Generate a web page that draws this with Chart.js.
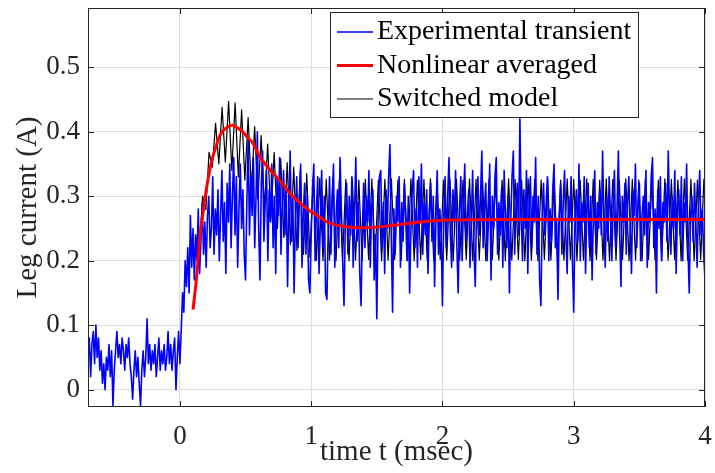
<!DOCTYPE html>
<html>
<head>
<meta charset="utf-8">
<script src="https://cdn.jsdelivr.net/npm/chart.js"></script>
<style>
  html, body { margin: 0; padding: 0; background: #fff; }
  #legCurrentChart { display: block; }
</style>
</head>
<body>
<canvas id="legCurrentChart" width="715" height="473"></canvas>
<script>
// axis ranges and tick marks (msec / A)
const xRange = [-0.7, 4];
const yRange = [-0.027, 0.592];
const xTicks = [0, 1, 2, 3, 4];
const yTicks = [0, 0.1, 0.2, 0.3, 0.4, 0.5];

// measured leg current, sampled every 10 usec from -0.7 msec
const expStart = -0.7;
const expStep = 0.01;
const expCurrent = [
  0.05, 0.08, 0.02, 0.07, 0.09, 0.04, 0.10, 0.05, 0.08, 0.03,
  0.06, 0.01, 0.04, 0.00, 0.05, 0.03, 0.07, 0.02, 0.06, -0.025,
  0.03, 0.06, 0.09, 0.05, 0.07, 0.04, 0.08, 0.06, 0.03, 0.07,
  0.05, 0.08, 0.04, 0.02, -0.015, 0.03, 0.06, 0.02, 0.05, 0.01,
  -0.025, 0.03, 0.06, 0.02, 0.05, 0.11, 0.04, 0.07, 0.03, 0.06,
  0.04, 0.07, 0.02, 0.05, 0.08, 0.03, 0.06, 0.04, 0.07, 0.03,
  0.05, 0.09, 0.04, 0.07, 0.03, 0.06, 0.08, 0.00, 0.05, 0.09,
  // t = 0
  0.04, 0.09, 0.15, 0.12, 0.20, 0.16, 0.22, 0.15, 0.27, 0.19,
  0.25, 0.17, 0.24, 0.20, 0.28, 0.18, 0.23, 0.29, 0.21, 0.26,
  0.19, 0.27, 0.30, 0.22, 0.25, 0.33, 0.21, 0.28, 0.24, 0.31,
  0.20, 0.27, 0.34, 0.23, 0.29, 0.18, 0.32, 0.26, 0.35, 0.22,
  0.30, 0.36, 0.24, 0.33, 0.19, 0.28, 0.35, 0.25, 0.31, 0.21,
  0.17, 0.29, 0.39, 0.24, 0.33, 0.27, 0.36, 0.22, 0.30, 0.40,
  0.25, 0.17, 0.32, 0.37, 0.23, 0.29, 0.34, 0.20, 0.31, 0.26,
  0.35, 0.22, 0.30, 0.18, 0.33, 0.27, 0.36, 0.21, 0.29, 0.34,
  0.24, 0.31, 0.16, 0.28, 0.37, 0.23, 0.30, 0.15, 0.27, 0.33,
  0.22, 0.29, 0.35, 0.19, 0.27, 0.32, 0.21, 0.30, 0.17, 0.15,
  // t = 1
  0.24, 0.31, 0.35, 0.20, 0.28, 0.33, 0.18, 0.26, 0.34, 0.22,
  0.30, 0.15, 0.14, 0.25, 0.33, 0.21, 0.29, 0.35, 0.19, 0.27,
  0.31, 0.22, 0.36, 0.28, 0.20, 0.13, 0.26, 0.32, 0.21, 0.30,
  0.24, 0.33, 0.19, 0.27, 0.36, 0.23, 0.29, 0.18, 0.13, 0.25,
  0.32, 0.22, 0.30, 0.26, 0.34, 0.19, 0.28, 0.31, 0.17, 0.24,
  0.11, 0.27, 0.33, 0.34, 0.22, 0.29, 0.18, 0.31, 0.25, 0.33,
  0.38, 0.24, 0.12, 0.28, 0.21, 0.30, 0.26, 0.33, 0.19, 0.29,
  0.23, 0.32, 0.27, 0.20, 0.30, 0.15, 0.25, 0.31, 0.34, 0.22,
  0.28, 0.19, 0.33, 0.26, 0.35, 0.21, 0.29, 0.24, 0.31, 0.18,
  0.27, 0.32, 0.23, 0.30, 0.16, 0.26, 0.34, 0.21, 0.28, 0.24,
  // t = 2
  0.13, 0.27, 0.33, 0.22, 0.30, 0.36, 0.24, 0.19, 0.31, 0.26,
  0.34, 0.22, 0.15, 0.28, 0.33, 0.20, 0.29, 0.35, 0.23, 0.27,
  0.31, 0.19, 0.26, 0.34, 0.22, 0.16, 0.29, 0.33, 0.24, 0.30,
  0.37, 0.22, 0.28, 0.32, 0.20, 0.26, 0.35, 0.17, 0.30, 0.25,
  0.33, 0.36, 0.21, 0.29, 0.24, 0.31, 0.19, 0.34, 0.27, 0.22,
  0.30, 0.15, 0.26, 0.33, 0.37, 0.21, 0.28, 0.32, 0.24, 0.42,
  0.27, 0.20, 0.31, 0.25, 0.34, 0.18, 0.29, 0.33, 0.22, 0.30,
  0.26, 0.36, 0.21, 0.30, 0.17, 0.13, 0.27, 0.32, 0.24, 0.29,
  0.33, 0.20, 0.28, 0.23, 0.31, 0.35, 0.22, 0.26, 0.14, 0.27,
  0.32, 0.21, 0.29, 0.34, 0.24, 0.18, 0.30, 0.26, 0.33, 0.20,
  // t = 3
  0.12, 0.27, 0.31, 0.23, 0.35, 0.20, 0.29, 0.26, 0.33, 0.18,
  0.28, 0.32, 0.22, 0.30, 0.17, 0.27, 0.34, 0.21, 0.29, 0.25,
  0.31, 0.24, 0.37, 0.26, 0.19, 0.30, 0.23, 0.33, 0.27, 0.20,
  0.29, 0.34, 0.22, 0.28, 0.37, 0.24, 0.16, 0.30, 0.26, 0.32,
  0.21, 0.29, 0.33, 0.25, 0.18, 0.31, 0.27, 0.35, 0.22, 0.28,
  0.32, 0.20, 0.27, 0.30, 0.24, 0.34, 0.19, 0.29, 0.26, 0.33,
  0.36, 0.22, 0.28, 0.15, 0.31, 0.25, 0.33, 0.20, 0.29, 0.26,
  0.32, 0.23, 0.37, 0.27, 0.21, 0.30, 0.25, 0.34, 0.18, 0.28,
  0.31, 0.24, 0.33, 0.20, 0.29, 0.26, 0.35, 0.22, 0.15, 0.27,
  0.30, 0.23, 0.32, 0.26, 0.19, 0.29, 0.34, 0.24, 0.28, 0.21,
  0.17
];

// switched model: ripple corners every half switching period
const switchedStart = 0.123;
const switchedStep = 0.0248;
const switchedCurrent = [
  0.215, 0.215, 0.300, 0.279, 0.368, 0.345, 0.413, 0.350, 0.438, 0.353,
  0.447, 0.340, 0.445, 0.330, 0.434, 0.325, 0.422, 0.310, 0.408, 0.295,
  0.394, 0.280, 0.381, 0.265, 0.368, 0.250, 0.358, 0.236, 0.352, 0.225,
  0.345, 0.216, 0.340, 0.210, 0.335, 0.205, 0.330, 0.201, 0.328, 0.200,
  0.326, 0.201, 0.327, 0.200, 0.325, 0.202, 0.326, 0.200, 0.327, 0.201,
  0.325, 0.200, 0.326, 0.202, 0.327, 0.201, 0.325, 0.200, 0.326, 0.201,
  0.327, 0.202, 0.325, 0.200, 0.326, 0.201, 0.327, 0.200, 0.325, 0.202,
  0.326, 0.201, 0.327, 0.200, 0.326, 0.202, 0.325, 0.201, 0.327, 0.200,
  0.326, 0.201, 0.325, 0.202, 0.327, 0.200, 0.326, 0.201, 0.325, 0.200,
  0.327, 0.202, 0.326, 0.201, 0.325, 0.200, 0.327, 0.201, 0.326, 0.202,
  0.325, 0.200, 0.327, 0.201, 0.326, 0.200, 0.325, 0.202, 0.327, 0.201,
  0.326, 0.200, 0.325, 0.201, 0.327, 0.202, 0.326, 0.200, 0.325, 0.201,
  0.327, 0.200, 0.326, 0.202, 0.325, 0.201, 0.327, 0.200, 0.326, 0.201,
  0.325, 0.202, 0.327, 0.200, 0.326, 0.201, 0.325, 0.200, 0.327, 0.202,
  0.326, 0.201, 0.325, 0.200, 0.327, 0.201, 0.326, 0.202, 0.325, 0.200,
  0.327, 0.201, 0.326, 0.200, 0.325, 0.202, 0.327
];

// nonlinear averaged model
const averagedTime = [
  0.10, 0.13, 0.15, 0.18, 0.20, 0.23, 0.25, 0.28, 0.30, 0.33,
  0.36, 0.40, 0.44, 0.48, 0.52, 0.55, 0.61, 0.69, 0.76, 0.84,
  0.92, 0.99, 1.06, 1.12, 1.25, 1.42, 1.63, 1.83, 2.04, 2.50,
  3.00, 3.50, 4.00
];
const averagedCurrent = [
  0.124, 0.180, 0.232, 0.280, 0.309, 0.343, 0.361, 0.380, 0.392, 0.402,
  0.407, 0.410, 0.406, 0.400, 0.390, 0.384, 0.361, 0.340, 0.325, 0.304,
  0.289, 0.277, 0.268, 0.260, 0.253, 0.251, 0.255, 0.260, 0.263, 0.264,
  0.264, 0.264, 0.264
];

const seriesLabels = ['Experimental transient', 'Nonlinear averaged', 'Switched model'];
const seriesColors = ['#0000ff', '#ff0000', '#000000'];
const seriesWidths = [1.6, 3, 1.2];

const serif = "'Liberation Serif', 'Times New Roman', serif";
const axisColor = '#262626';

const expPoints = expCurrent.map((y, i) => ({ x: expStart + i * expStep, y }));
const switchedPoints = switchedCurrent.map((y, i) => ({ x: switchedStart + i * switchedStep, y }));
const averagedPoints = averagedCurrent.map((y, i) => ({ x: averagedTime[i], y }));

// box outline and inward tick marks on all four sides
const axesBoxPlugin = {
  id: 'axesBox',
  afterDatasetsDraw(chart) {
    const { ctx, chartArea: a, scales: { x, y } } = chart;
    const len = 6;
    ctx.save();
    ctx.strokeStyle = axisColor;
    ctx.lineWidth = 1;
    ctx.beginPath();
    xTicks.forEach(v => {
      const px = Math.round(x.getPixelForValue(v)) + 0.5;
      ctx.moveTo(px, a.bottom);
      ctx.lineTo(px, a.bottom - len);
      ctx.moveTo(px, a.top);
      ctx.lineTo(px, a.top + len);
    });
    yTicks.forEach(v => {
      const py = Math.round(y.getPixelForValue(v)) + 0.5;
      ctx.moveTo(a.left, py);
      ctx.lineTo(a.left + len, py);
      ctx.moveTo(a.right, py);
      ctx.lineTo(a.right - len, py);
    });
    ctx.stroke();
    ctx.strokeRect(a.left + 0.5, a.top + 0.5, a.right - a.left - 1, a.bottom - a.top - 1);
    ctx.restore();
  }
};

// legend box in the upper part of the axes
const legendBoxPlugin = {
  id: 'legendBox',
  afterDraw(chart, args, opts) {
    const { ctx } = chart;
    const { left, top, width, height, rowHeight, firstRow, lineStart, lineEnd, textX } = opts;
    ctx.save();
    ctx.fillStyle = '#fff';
    ctx.fillRect(left, top, width, height);
    ctx.strokeStyle = axisColor;
    ctx.lineWidth = 1;
    ctx.strokeRect(left + 0.5, top + 0.5, width, height);
    ctx.font = `28px ${serif}`;
    ctx.textBaseline = 'middle';
    seriesLabels.forEach((label, i) => {
      const rowY = top + firstRow + i * rowHeight;
      ctx.beginPath();
      ctx.strokeStyle = seriesColors[i];
      ctx.lineWidth = seriesWidths[i];
      ctx.moveTo(left + lineStart, rowY);
      ctx.lineTo(left + lineEnd, rowY);
      ctx.stroke();
      ctx.fillStyle = '#000';
      ctx.fillText(label, left + textX, rowY);
    });
    ctx.restore();
  }
};

Chart.defaults.font.family = serif;

new Chart(document.getElementById('legCurrentChart'), {
  type: 'line',
  data: {
    datasets: [
      {
        label: seriesLabels[1],
        data: averagedPoints,
        borderColor: seriesColors[1],
        borderWidth: seriesWidths[1],
        cubicInterpolationMode: 'monotone',
        pointRadius: 0
      },
      {
        label: seriesLabels[0],
        data: expPoints,
        borderColor: seriesColors[0],
        borderWidth: seriesWidths[0],
        borderJoinStyle: 'round',
        tension: 0,
        pointRadius: 0
      },
      {
        label: seriesLabels[2],
        data: switchedPoints,
        borderColor: seriesColors[2],
        borderWidth: seriesWidths[2],
        borderJoinStyle: 'round',
        tension: 0,
        pointRadius: 0
      }
    ]
  },
  options: {
    responsive: false,
    animation: false,
    devicePixelRatio: 1,
    layout: { padding: { top: 8, right: 10, left: 0, bottom: 0 } },
    plugins: {
      legend: { display: false },
      tooltip: { enabled: false },
      legendBox: {
        left: 330, top: 12, width: 308, height: 105,
        firstRow: 20, rowHeight: 33.5,
        lineStart: 7, lineEnd: 43, textX: 47
      }
    },
    scales: {
      x: {
        type: 'linear',
        min: xRange[0],
        max: xRange[1],
        afterBuildTicks: s => { s.ticks = xTicks.map(v => ({ value: v })); },
        afterFit: s => {
          s.height = 66;
          s.paddingLeft = 0;
          s.paddingRight = 0;
        },
        grid: { color: '#dedede', drawTicks: false },
        border: { display: false },
        ticks: {
          padding: 14,
          color: axisColor,
          maxRotation: 0,
          font: { size: 27 },
          callback: v => String(v)
        },
        title: {
          display: true,
          text: 'time t (msec)',
          color: axisColor,
          font: { size: 29 },
          padding: { top: 0, bottom: 3 }
        }
      },
      y: {
        type: 'linear',
        min: yRange[0],
        max: yRange[1],
        afterBuildTicks: s => { s.ticks = yTicks.map(v => ({ value: v })); },
        afterFit: s => {
          s.width = 88;
          s.paddingTop = 0;
          s.paddingBottom = 0;
        },
        grid: { color: '#dedede', drawTicks: false },
        border: { display: false },
        ticks: {
          padding: 8,
          color: axisColor,
          font: { size: 27 },
          callback: v => (v === 0 ? '0' : v.toFixed(1))
        },
        title: {
          display: true,
          text: 'Leg current (A)',
          color: axisColor,
          font: { size: 29 },
          padding: { top: 11, bottom: 0 }
        }
      }
    }
  },
  plugins: [axesBoxPlugin, legendBoxPlugin]
});
</script>
</body>
</html>
